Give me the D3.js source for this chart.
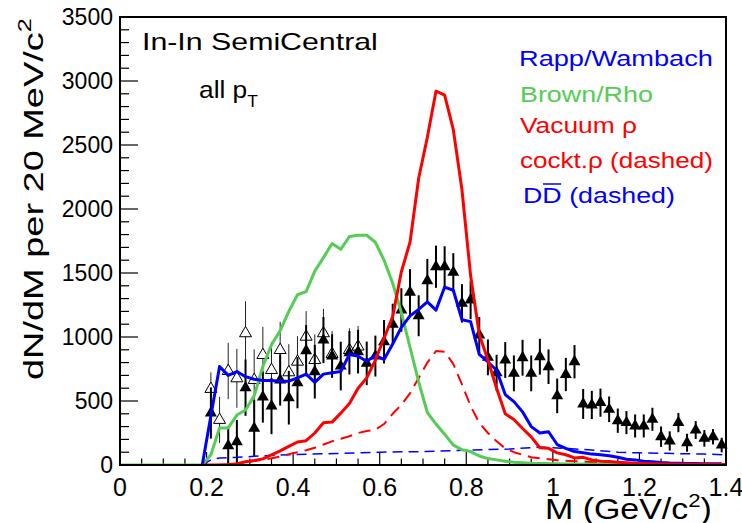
<!DOCTYPE html>
<html>
<head>
<meta charset="utf-8">
<script src="https://cdn.jsdelivr.net/npm/d3@7"></script>
<style>
  html, body { margin: 0; padding: 0; background: #fff; }
  svg { display: block; }
</style>
</head>
<body>
<div id="chart"></div>
<script>
// dimuon mass spectrum, In-In semicentral, with model curves

const massBins = [0.21, 0.23, 0.25, 0.27, 0.29, 0.31, 0.33, 0.35, 0.37, 0.39,
  0.41, 0.43, 0.45, 0.47, 0.49, 0.51, 0.53, 0.55, 0.57, 0.59,
  0.61, 0.63, 0.65, 0.67, 0.69, 0.71, 0.73, 0.75, 0.77, 0.79,
  0.81, 0.83, 0.85, 0.87, 0.89, 0.91, 0.93, 0.95, 0.97, 0.99,
  1.01, 1.03, 1.05, 1.07, 1.09, 1.11, 1.13, 1.15, 1.17, 1.19,
  1.21, 1.23, 1.25, 1.27, 1.29, 1.31, 1.33, 1.35, 1.37, 1.39];

const filledYield = [406, null, 151, 182, 604, 287, 531, 461, 664, 526,
  643, 893, 729, 976, 851, 773, 877, 885, 794, 851,
  963, 1100, 1211, 1350, 1166, 1440, 1549, 1549, 1505, 1263,
  1289, 1016, 841, 721, 820, 716, 838, 716, 846, 768,
  540, 707, 807, 477, 469, 487, 435, 346, 331, 305,
  305, 357, 221, 188, 331, 174, 273, 208, 221, 156];

const filledErr = [200, 0, 150, 170, 220, 220, 200, 220, 200, 210,
  200, 200, 210, 180, 170, 190, 170, 170, 170, 160,
  170, 160, 170, 180, 160, 170, 165, 160, 150, 150,
  150, 140, 140, 140, 140, 140, 140, 140, 140, 135,
  135, 130, 130, 117, 110, 110, 100, 95, 90, 90,
  90, 90, 80, 75, 75, 70, 70, 65, 60, 57];

const openMass = [0.21, 0.23, 0.25, 0.27, 0.29, 0.31, 0.33, 0.35, 0.37, 0.39,
  0.41, 0.43, 0.45, 0.47, 0.49, 0.53, 0.55];
const openYield = [594, 352, 734, 677, 1029, 664, 859, 742, 898, 724,
  807, 1002, 820, 1029, 867, 898, 925];
const openErr = [130, 180, 220, 230, 250, 240, 220, 220, 220, 220,
  200, 200, 200, 190, 180, 170, 160];

// model curves: [mass, yield]
const rappWambach = [[0.19, 0], [0.23, 770], [0.25, 700], [0.27, 730], [0.29, 690], [0.31, 670],
  [0.33, 660], [0.35, 660], [0.37, 655], [0.39, 655], [0.41, 680], [0.43, 710], [0.45, 645],
  [0.47, 710], [0.49, 720], [0.51, 730], [0.53, 865], [0.55, 850], [0.57, 810], [0.59, 855],
  [0.61, 825], [0.63, 945], [0.65, 1075], [0.67, 1165], [0.69, 1215], [0.71, 1275], [0.73, 1210],
  [0.75, 1390], [0.77, 1365], [0.79, 1135], [0.81, 1120], [0.83, 865], [0.85, 805], [0.87, 740],
  [0.89, 550], [0.91, 495], [0.93, 415], [0.95, 300], [0.97, 250], [0.99, 260], [1.01, 160],
  [1.03, 130], [1.05, 105], [1.07, 95], [1.09, 85], [1.11, 80], [1.13, 72], [1.15, 60],
  [1.17, 45], [1.19, 40], [1.21, 30], [1.23, 26], [1.25, 20], [1.27, 16], [1.29, 14],
  [1.31, 12], [1.33, 12], [1.35, 10], [1.37, 10], [1.39, 10]];

const brownRho = [[0, 0], [0.19, 0], [0.21, 80], [0.23, 290], [0.25, 290], [0.27, 390], [0.29, 430],
  [0.31, 540], [0.33, 770], [0.35, 940], [0.37, 1050], [0.39, 1200], [0.41, 1330], [0.43, 1355],
  [0.45, 1515], [0.47, 1620], [0.49, 1730], [0.51, 1685], [0.53, 1785], [0.55, 1795], [0.57, 1795],
  [0.59, 1740], [0.61, 1600], [0.63, 1420], [0.65, 1190], [0.67, 920], [0.69, 650], [0.71, 410],
  [0.73, 320], [0.75, 240], [0.77, 155], [0.79, 120], [0.81, 105], [0.83, 70], [0.85, 50],
  [0.87, 40], [0.89, 30], [0.91, 22], [0.95, 14], [1.0, 10], [1.1, 6], [1.2, 4], [1.3, 3], [1.4, 2]];

const vacuumRho = [[0.19, 0], [0.21, 0], [0.23, 0], [0.25, 3], [0.27, 8], [0.29, 25], [0.31, 35],
  [0.33, 48], [0.35, 80], [0.37, 110], [0.39, 145], [0.41, 180], [0.43, 190], [0.45, 250],
  [0.47, 330], [0.49, 335], [0.51, 405], [0.53, 480], [0.55, 600], [0.57, 680], [0.59, 820],
  [0.61, 990], [0.63, 1160], [0.65, 1510], [0.67, 1740], [0.69, 2240], [0.71, 2560], [0.73, 2920],
  [0.75, 2890], [0.77, 2620], [0.79, 2150], [0.81, 1480], [0.83, 1020], [0.85, 820], [0.87, 600],
  [0.89, 400], [0.91, 355], [0.93, 285], [0.95, 220], [0.97, 135], [0.99, 130], [1.01, 95],
  [1.03, 80], [1.05, 55], [1.07, 60], [1.09, 40], [1.11, 30], [1.13, 28], [1.15, 22], [1.17, 18],
  [1.19, 14], [1.21, 12], [1.25, 8], [1.3, 6], [1.35, 5], [1.4, 4]];

const cocktailRho = [[0.21, 0], [0.25, 4], [0.27, 12], [0.29, 22], [0.31, 32], [0.33, 42], [0.35, 52],
  [0.37, 65], [0.39, 85], [0.41, 100], [0.43, 115], [0.45, 135], [0.47, 160], [0.49, 185],
  [0.51, 205], [0.53, 225], [0.55, 250], [0.57, 265], [0.59, 275], [0.61, 320], [0.63, 400],
  [0.65, 470], [0.67, 560], [0.69, 680], [0.71, 800], [0.73, 890], [0.75, 885], [0.77, 790],
  [0.79, 630], [0.81, 460], [0.83, 330], [0.85, 250], [0.87, 185], [0.89, 130], [0.91, 100],
  [0.93, 80], [0.95, 60], [0.97, 52], [0.99, 45], [1.01, 38], [1.05, 30], [1.1, 22], [1.2, 10],
  [1.3, 6], [1.4, 4]];

const openCharm = [[0.19, 0], [0.21, 40], [0.23, 55], [0.27, 60], [0.31, 68], [0.35, 75], [0.41, 82],
  [0.5, 90], [0.6, 100], [0.7, 105], [0.8, 115], [0.9, 125], [0.97, 140], [1.03, 130], [1.09, 117],
  [1.15, 100], [1.2, 95], [1.25, 92], [1.3, 88], [1.35, 85], [1.4, 80]];

const xTickLabels = ['0', '0.2', '0.4', '0.6', '0.8', '1', '1.2', '1.4'];
const xTickValues = [0, 0.2, 0.4, 0.6, 0.8, 1.0, 1.2, 1.4];
const yTickValues = [0, 500, 1000, 1500, 2000, 2500, 3000, 3500];

const W = 742, H = 523;
const FONT = '"Liberation Sans", Arial, Helvetica, sans-serif';
const BLUE = '#0000ff', RED = '#ff0000', GREEN = '#55cc55';

const plot = { left: 120, right: 726, top: 17, bottom: 465 };

const x = d3.scaleLinear().domain([0, 1.4]).range([plot.left, plot.right]);
const y = d3.scaleLinear().domain([0, 3500]).range([plot.bottom, plot.top]);

const svg = d3.select('#chart').append('svg')
  .attr('width', W).attr('height', H)
  .attr('viewBox', `0 0 ${W} ${H}`);

svg.append('rect').attr('width', W).attr('height', H).attr('fill', '#fff');

svg.append('defs').append('clipPath').attr('id', 'plotclip')
  .append('rect')
  .attr('x', plot.left).attr('y', plot.top)
  .attr('width', plot.right - plot.left).attr('height', plot.bottom - plot.top);

// text helper: stretches to a target width like the original rendering
function label(parent, { x0, y0, parts, size, color = '#000', width = null, anchor = 'start', rotate = false }) {
  const g = parent.append('g');
  const t = g.append('text')
    .attr('x', 0).attr('y', 0)
    .attr('font-family', FONT)
    .attr('font-size', size)
    .attr('fill', color);
  parts.forEach(p => {
    t.append('tspan')
      .attr('dy', p.dy || 0)
      .attr('font-size', p.size || size)
      .text(p.t);
  });
  const w = t.node().getComputedTextLength();
  const s = width ? width / w : 1;
  let shift = 0;
  if (anchor === 'middle') shift = -w * s / 2;
  if (anchor === 'end') shift = -w * s;
  if (rotate) {
    g.attr('transform', `translate(${x0},${y0}) rotate(-90) translate(${shift},0) scale(${s},1)`);
  } else {
    g.attr('transform', `translate(${x0 + shift},${y0}) scale(${s},1)`);
  }
  return t;
}

// ticks (ROOT style, pointing inward)
const tickG = svg.append('g').attr('stroke', '#000').attr('stroke-width', 1.2);
d3.range(0, 3501, 100).forEach(v => {
  const major = v % 500 === 0;
  tickG.append('line')
    .attr('x1', plot.left).attr('x2', plot.left + (major ? 18 : 9))
    .attr('y1', y(v)).attr('y2', y(v));
});
d3.range(0, 29).map(i => i * 0.05).forEach((m, i) => {
  const major = i % 4 === 0;
  tickG.append('line')
    .attr('x1', x(m)).attr('x2', x(m))
    .attr('y1', plot.bottom).attr('y2', plot.bottom - (major ? 13 : 6.5));
});

// tick labels
xTickValues.forEach((v, i) => {
  svg.append('text')
    .attr('x', x(v)).attr('y', 496)
    .attr('text-anchor', 'middle')
    .attr('font-family', FONT).attr('font-size', 25)
    .text(xTickLabels[i]);
});
yTickValues.forEach(v => {
  svg.append('text')
    .attr('x', 113).attr('y', y(v) + 8)
    .attr('text-anchor', 'end')
    .attr('font-family', FONT).attr('font-size', 23)
    .text(v);
});

// data: open triangles
const dataG = svg.append('g');
const curveG = svg.append('g').attr('clip-path', 'url(#plotclip)');

openMass.forEach((m, i) => {
  dataG.append('line')
    .attr('x1', x(m)).attr('x2', x(m))
    .attr('y1', y(openYield[i] - openErr[i])).attr('y2', y(openYield[i] + openErr[i]))
    .attr('stroke', '#222').attr('stroke-width', 1);
});
const tri = d3.symbol(d3.symbolTriangle).size(62)();
openMass.forEach((m, i) => {
  dataG.append('path')
    .attr('d', tri)
    .attr('transform', `translate(${x(m)},${y(openYield[i])})`)
    .attr('fill', '#fff').attr('stroke', '#000').attr('stroke-width', 1);
});

// data: filled triangles
massBins.forEach((m, i) => {
  if (filledYield[i] == null) return;
  dataG.append('line')
    .attr('x1', x(m)).attr('x2', x(m))
    .attr('y1', y(Math.max(0, filledYield[i] - filledErr[i])))
    .attr('y2', y(filledYield[i] + filledErr[i]))
    .attr('stroke', '#000').attr('stroke-width', 2);
});
massBins.forEach((m, i) => {
  if (filledYield[i] == null) return;
  dataG.append('path')
    .attr('d', tri)
    .attr('transform', `translate(${x(m)},${y(filledYield[i])})`)
    .attr('fill', '#000');
});

// curves
const line = d3.line().x(d => x(d[0])).y(d => y(d[1]));
const curves = [
  { data: openCharm, color: BLUE, width: 1.5, dash: '10,6' },
  { data: cocktailRho, color: RED, width: 2, dash: '12,7' },
  { data: brownRho, color: GREEN, width: 3, dash: null },
  { data: rappWambach, color: BLUE, width: 3, dash: null },
  { data: vacuumRho, color: RED, width: 3, dash: null },
];
curves.forEach(c => {
  curveG.append('path')
    .attr('d', line(c.data))
    .attr('fill', 'none')
    .attr('stroke', c.color)
    .attr('stroke-width', c.width)
    .attr('stroke-linejoin', 'round')
    .attr('stroke-dasharray', c.dash);
});

// frame
svg.append('rect')
  .attr('x', plot.left).attr('y', plot.top)
  .attr('width', plot.right - plot.left).attr('height', plot.bottom - plot.top)
  .attr('fill', 'none').attr('stroke', '#000').attr('stroke-width', 2);

// axis titles
label(svg, {
  x0: 545, y0: 519, size: 29, width: 167,
  parts: [{ t: 'M (GeV/c' }, { t: '2', size: 19, dy: -12 }, { t: ')', dy: 12 }]
});
label(svg, {
  x0: 43, y0: 380, size: 27, width: 362, rotate: true,
  parts: [{ t: 'dN/dM per 20 MeV/c' }, { t: '2', size: 18, dy: -12 }]
});

// annotations
label(svg, { x0: 142, y0: 50, size: 24, width: 236, parts: [{ t: 'In-In SemiCentral' }] });
label(svg, {
  x0: 199, y0: 98, size: 24, width: 59,
  parts: [{ t: 'all p' }, { t: 'T', size: 16, dy: 9 }]
});

// legend
const legendItems = [
  { text: 'Rapp/Wambach', color: BLUE, x0: 519, y0: 66, width: 194 },
  { text: 'Brown/Rho', color: GREEN, x0: 520, y0: 102, width: 133 },
  { text: 'Vacuum ρ', color: RED, x0: 520, y0: 133, width: 117 },
  { text: 'cockt.ρ (dashed)', color: RED, x0: 520, y0: 168, width: 193 },
];
legendItems.forEach(it => {
  label(svg, { x0: it.x0, y0: it.y0, size: 22, color: it.color, width: it.width, parts: [{ t: it.text }] });
});
const ddText = label(svg, {
  x0: 523, y0: 203, size: 22, color: BLUE, width: 152,
  parts: [{ t: 'DD  (dashed)' }]
});
// overline on the second D
const dNode = ddText.node();
const ox1 = dNode.getStartPositionOfChar(1).x;
const ox2 = dNode.getEndPositionOfChar(1).x;
d3.select(dNode.parentNode).append('line')
  .attr('x1', ox1 + 0.5).attr('x2', ox2 - 0.5)
  .attr('y1', -19).attr('y2', -19)
  .attr('stroke', BLUE).attr('stroke-width', 1.5);
</script>
</body>
</html>
